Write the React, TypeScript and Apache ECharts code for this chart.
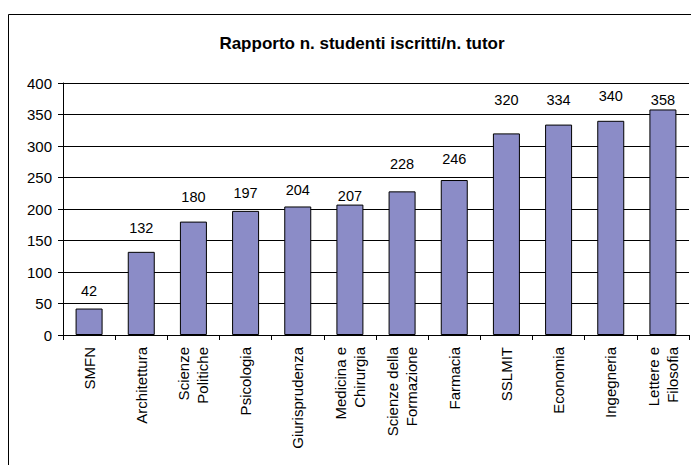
import React, { useEffect, useRef } from "react";
import * as echarts from "echarts";

const titleText = "Rapporto n. studenti iscritti/n. tutor";
const categories = [
  "SMFN",
  "Architettura",
  "Scienze\nPolitiche",
  "Psicologia",
  "Giurisprudenza",
  "Medicina e\nChirurgia",
  "Scienze della\nFormazione",
  "Farmacia",
  "SSLMIT",
  "Economia",
  "Ingegneria",
  "Lettere e\nFilosofia",
];
const values = [42, 132, 180, 197, 204, 207, 228, 246, 320, 334, 340, 358];
const yMin = 0;
const yMax = 400;
const yStep = 50;

// extra vertical lift (px) of each value label, as placed in the original
const labelLift = [0, 6, 7, 0, -1, -9, 10, 4, 16, 7, 7, -8];

const FONT = "'Liberation Sans', Arial, sans-serif";

export default function App() {
  const ref = useRef<HTMLDivElement>(null);
  useEffect(() => {
    if (!ref.current) return;
    const chart = echarts.init(ref.current, undefined, { renderer: "svg" });
    chart.setOption({
      animation: false,
      backgroundColor: "#ffffff",
      title: {
        text: titleText,
        left: 357,
        textAlign: "center",
        top: 30,
        textStyle: { fontFamily: FONT, fontSize: 17, fontWeight: "bold", color: "#000" },
      },
      graphic: [
        {
          type: "rect",
          shape: { x: 8.5, y: 14.5, width: 720, height: 520 },
          style: { fill: "none", stroke: "#000", lineWidth: 1 },
          silent: true,
          z: 100,
        },
      ],
      grid: { left: 63, right: 2, top: 83, height: 252, containLabel: false },
      xAxis: {
        type: "category",
        data: categories,
        axisLine: { show: true, lineStyle: { color: "#000", width: 1 } },
        axisTick: { show: true, alignWithLabel: false, length: 5, lineStyle: { color: "#000" } },
        axisLabel: {
          rotate: 90,
          interval: 0,
          margin: 12,
          fontFamily: FONT,
          fontSize: 15,
          lineHeight: 19,
          color: "#000",
        },
      },
      yAxis: {
        type: "value",
        min: yMin,
        max: yMax,
        interval: yStep,
        axisLine: { show: true, lineStyle: { color: "#000", width: 1 } },
        axisTick: { show: true, length: 5, lineStyle: { color: "#000" } },
        axisLabel: { margin: 11, fontFamily: FONT, fontSize: 15, color: "#000" },
        splitLine: { show: true, lineStyle: { color: "#000", width: 1 } },
      },
      series: [
        {
          type: "bar",
          data: values.map((v, i) => ({
            value: v,
            label: { offset: [0, -labelLift[i]] },
          })),
          barWidth: 27,
          itemStyle: { color: "#8b8cc7", borderColor: "#000", borderWidth: 1 },
          label: {
            show: true,
            position: "top",
            distance: 10,
            fontFamily: FONT,
            fontSize: 14.5,
            color: "#000",
          },
        },
      ],
    });
    return () => chart.dispose();
  }, []);
  return (
    <div
      ref={ref}
      style={{ position: "fixed", left: 0, top: 0, width: 691, height: 465 }}
    />
  );
}
